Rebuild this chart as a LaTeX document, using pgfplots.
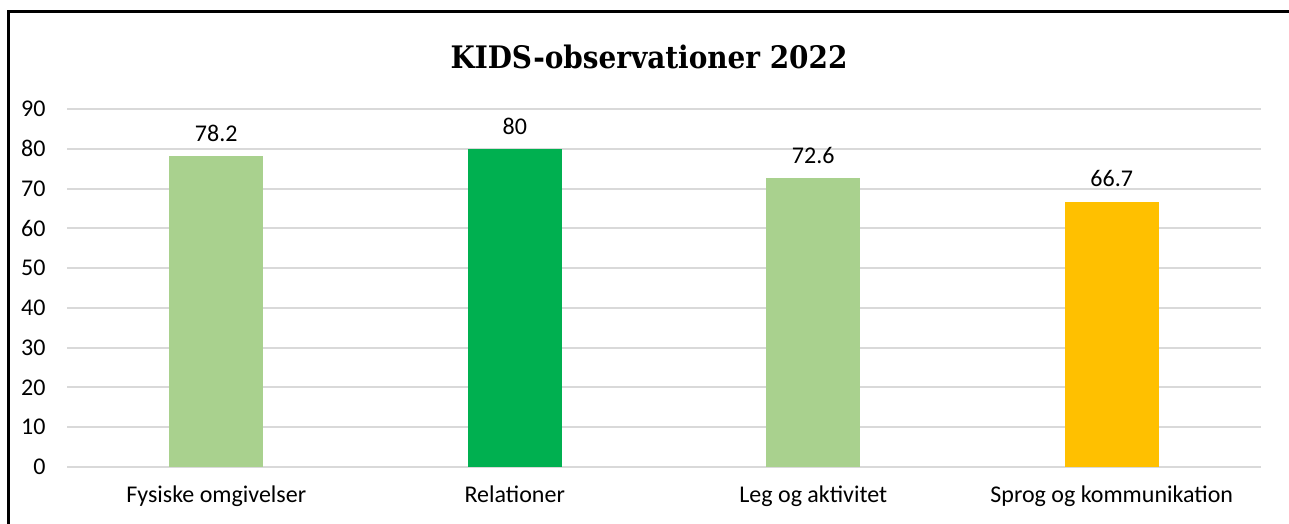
\documentclass[border=0pt]{standalone}
\usepackage{pgfplots}
\pgfplotsset{compat=1.18}
\usepackage{fontspec}
\setmainfont{Carlito}
\newfontfamily\titlefont{DejaVu Serif Condensed}
\definecolor{lgreen}{HTML}{A9D18E}
\definecolor{dgreen}{HTML}{00B050}
\definecolor{gold}{HTML}{FFC000}
\definecolor{gridc}{HTML}{D9D9D9}
\begin{document}
\begin{tikzpicture}[x=1pt,y=1pt]
\path[use as bounding box] (0,0) rectangle (1289,523);
\draw[line width=3pt, line cap=rect] (8,0) -- (8,511) -- (1289,511);
\node[font=\titlefont\bfseries\fontsize{31}{36}\selectfont] at (649,466) {KIDS-observationer 2022};
\begin{axis}[
  at={(67pt,56pt)}, anchor=south west,
  scale only axis, width=1194pt, height=358pt,
  xmin=-0.5, xmax=3.5, ymin=0, ymax=90,
  ytick={0,10,...,90},
  xtick={0,1,2,3},
  xticklabels={Fysiske omgivelser,Relationer,Leg og aktivitet,Sprog og kommunikation},
  ymajorgrids, grid style={gridc, line width=2pt},
  axis line style={draw=none},
  major tick length=0pt,
  tick label style={font=\fontsize{24}{28}\selectfont},
  yticklabel style={xshift=-18pt},
  xticklabel style={yshift=-15pt},
  /pgf/number format/assume math mode=true,
  ybar, bar width=94pt,
  nodes near coords,
  every node near coord/.append style={font=\fontsize{24}{28}\selectfont, yshift=11pt},
  clip=false,
]
\addplot[fill=lgreen, draw=none, bar shift=0pt] coordinates {(0,78.2)};
\addplot[fill=dgreen, draw=none, bar shift=0pt] coordinates {(1,80)};
\addplot[fill=lgreen, draw=none, bar shift=0pt] coordinates {(2,72.6)};
\addplot[fill=gold, draw=none, bar shift=0pt] coordinates {(3,66.7)};
\end{axis}
\end{tikzpicture}
\end{document}
